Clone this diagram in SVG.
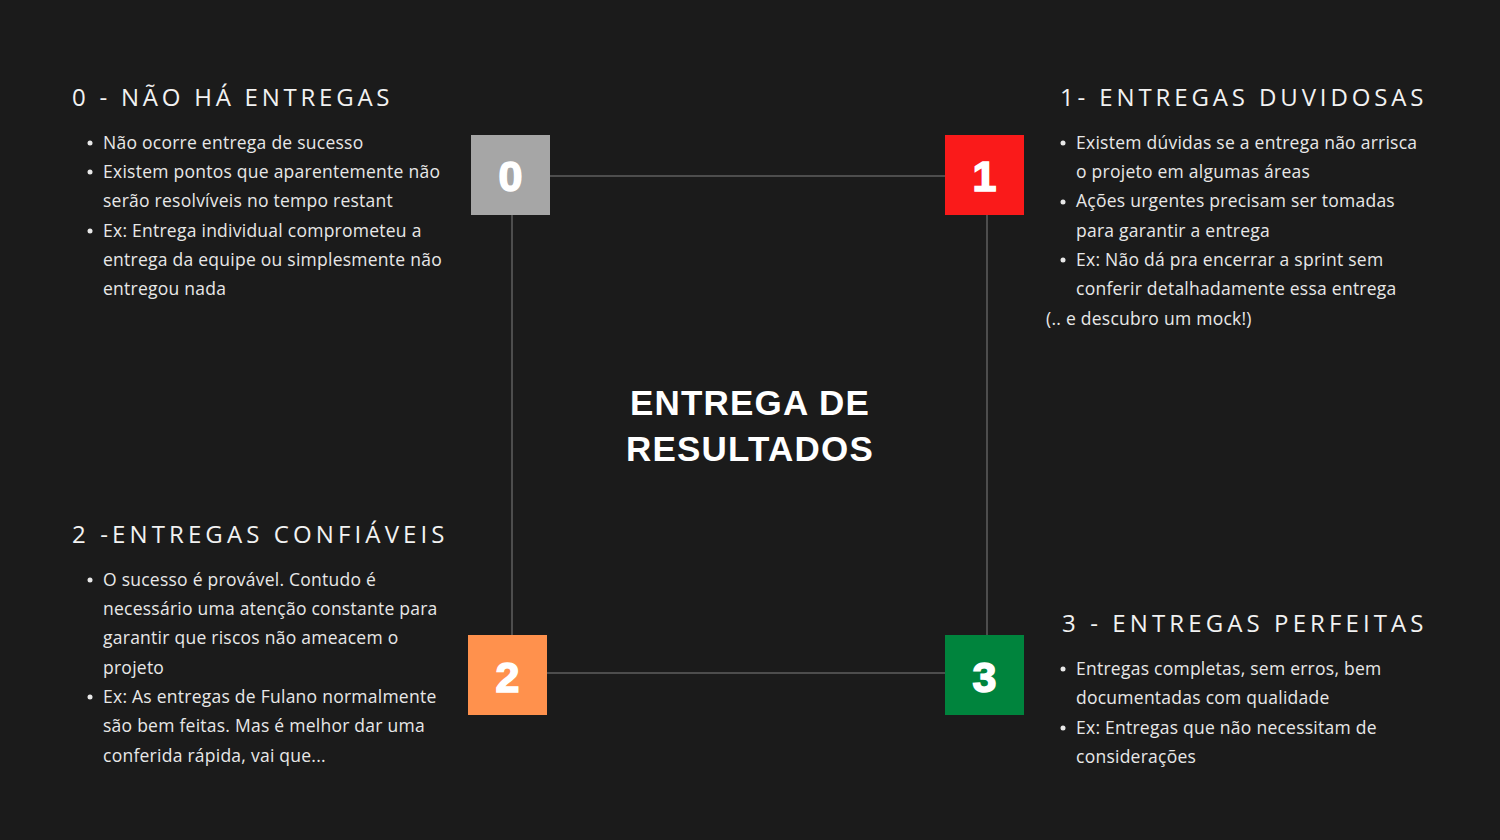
<svg xmlns="http://www.w3.org/2000/svg" width="1500" height="840" viewBox="0 0 1500 840">
<style>
.h{font-family:"Open Sans","Liberation Sans",sans-serif;font-size:24px;fill:#f2f2f2;letter-spacing:2.5px}
.b{font-family:"Open Sans","Liberation Sans",sans-serif;font-size:17.5px;fill:#e8e8e8;letter-spacing:0.25px}
.n{font-family:"Liberation Sans",Arial,sans-serif;font-weight:bold;font-size:43px;fill:#ffffff;stroke:#ffffff;stroke-width:1.6px;text-anchor:middle}
.c{font-family:"Liberation Sans",Arial,sans-serif;font-weight:bold;font-size:35px;fill:#ffffff;text-anchor:middle;letter-spacing:1.2px}
.ln{stroke:#4d4d4d;stroke-width:2;fill:none}
.dot{fill:#e8e8e8}
</style>
<rect width="1500" height="840" fill="#1b1b1b"/>
<g id="connectors">
<line class="ln" x1="549" y1="176" x2="945" y2="176"/>
<line class="ln" x1="512" y1="214" x2="512" y2="635"/>
<line class="ln" x1="987" y1="214" x2="987" y2="635"/>
<line class="ln" x1="546" y1="673" x2="945" y2="673"/>
</g>
<g id="node0">
<rect x="471" y="135" width="79" height="80" fill="#a6a6a6"/>
<text class="n" x="510.5" y="191">0</text>
</g>
<g id="node1">
<rect x="945" y="135" width="79" height="80" fill="#fa1a1a"/>
<text class="n" x="984.5" y="191">1</text>
</g>
<g id="node2">
<rect x="468" y="635" width="79" height="80" fill="#ff914d"/>
<text class="n" x="507.5" y="692">2</text>
</g>
<g id="node3">
<rect x="945" y="635" width="79" height="80" fill="#00843d"/>
<text class="n" x="984.5" y="692">3</text>
</g>
<g id="center">
<text class="c" x="750" y="415">ENTREGA DE</text>
<text class="c" x="750" y="461">RESULTADOS</text>
</g>
<g id="text0">
<text class="h" x="72" y="106" textLength="320" lengthAdjust="spacing">0 - NÃO HÁ ENTREGAS</text>
<circle class="dot" cx="90" cy="143" r="2.5"/>
<circle class="dot" cx="90" cy="172" r="2.5"/>
<circle class="dot" cx="90" cy="231" r="2.5"/>
<text class="b" x="103" y="149">Não ocorre entrega de sucesso</text>
<text class="b" x="103" y="178">Existem pontos que aparentemente não</text>
<text class="b" x="103" y="207">serão resolvíveis no tempo restant</text>
<text class="b" x="103" y="237">Ex: Entrega individual comprometeu a</text>
<text class="b" x="103" y="266">entrega da equipe ou simplesmente não</text>
<text class="b" x="103" y="295">entregou nada</text>
</g>
<g id="text1">
<text class="h" x="1060" y="106" textLength="366" lengthAdjust="spacing">1- ENTREGAS DUVIDOSAS</text>
<circle class="dot" cx="1063" cy="143" r="2.5"/>
<circle class="dot" cx="1063" cy="202" r="2.5"/>
<circle class="dot" cx="1063" cy="260" r="2.5"/>
<text class="b" x="1076" y="149">Existem dúvidas se a entrega não arrisca</text>
<text class="b" x="1076" y="178">o projeto em algumas áreas</text>
<text class="b" x="1076" y="207">Ações urgentes precisam ser tomadas</text>
<text class="b" x="1076" y="237">para garantir a entrega</text>
<text class="b" x="1076" y="266">Ex: Não dá pra encerrar a sprint sem</text>
<text class="b" x="1076" y="295">conferir detalhadamente essa entrega</text>
<text class="b" x="1046" y="325">(.. e descubro um mock!)</text>
</g>
<g id="text2">
<text class="h" x="72" y="543" textLength="375" lengthAdjust="spacing">2 -ENTREGAS CONFIÁVEIS</text>
<circle class="dot" cx="90" cy="580" r="2.5"/>
<circle class="dot" cx="90" cy="697" r="2.5"/>
<text class="b" x="103" y="586">O sucesso é provável. Contudo é</text>
<text class="b" x="103" y="615">necessário uma atenção constante para</text>
<text class="b" x="103" y="644">garantir que riscos não ameacem o</text>
<text class="b" x="103" y="674">projeto</text>
<text class="b" x="103" y="703">Ex: As entregas de Fulano normalmente</text>
<text class="b" x="103" y="732">são bem feitas. Mas é melhor dar uma</text>
<text class="b" x="103" y="762">conferida rápida, vai que...</text>
</g>
<g id="text3">
<text class="h" x="1062" y="632" textLength="364" lengthAdjust="spacing">3 - ENTREGAS PERFEITAS</text>
<circle class="dot" cx="1063" cy="669" r="2.5"/>
<circle class="dot" cx="1063" cy="728" r="2.5"/>
<text class="b" x="1076" y="675">Entregas completas, sem erros, bem</text>
<text class="b" x="1076" y="704">documentadas com qualidade</text>
<text class="b" x="1076" y="734">Ex: Entregas que não necessitam de</text>
<text class="b" x="1076" y="763">considerações</text>
</g>
</svg>
